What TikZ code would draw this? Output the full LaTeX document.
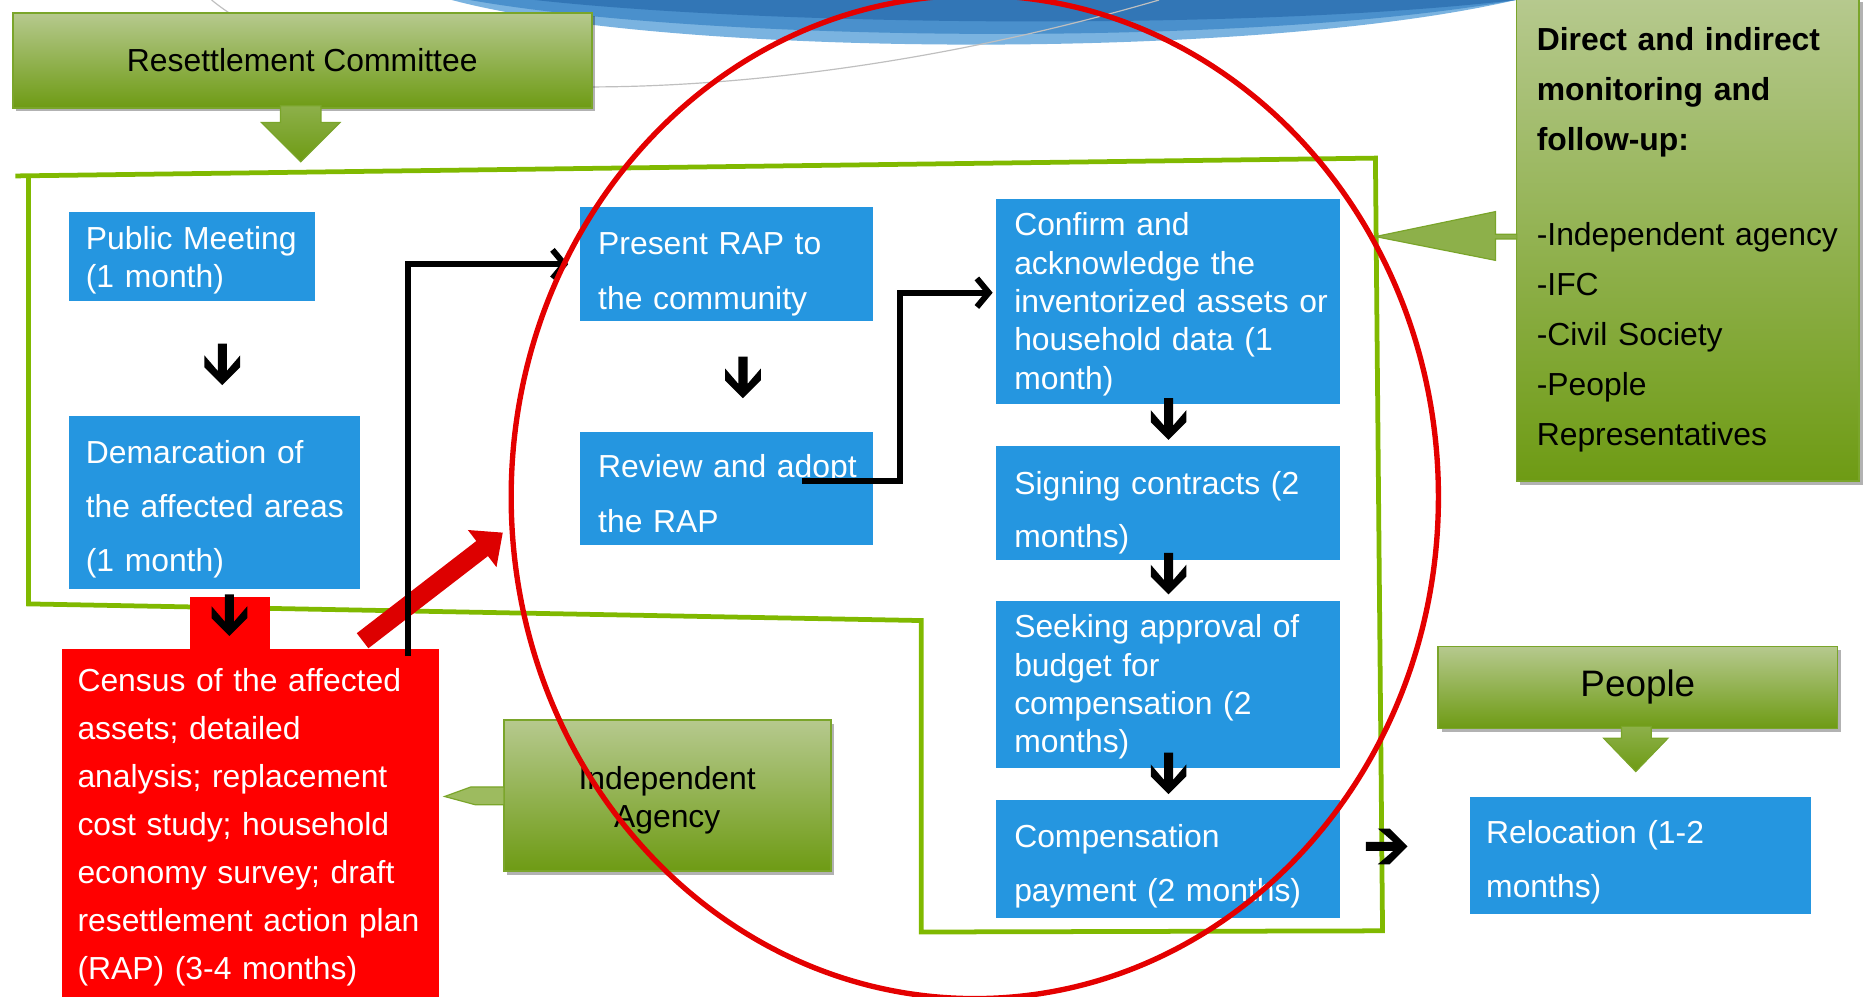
\documentclass[tikz,border=0pt]{standalone}
\usepackage{fontspec}
\setmainfont{Liberation Sans}
\usetikzlibrary{arrows.meta,shadows,calc}

\definecolor{boxblue}{RGB}{37,150,224}
\definecolor{flowgreen}{RGB}{128,185,0}
\definecolor{gtop}{RGB}{182,201,142}
\definecolor{gbot}{RGB}{110,155,20}
\definecolor{gedge}{RGB}{122,165,42}
\definecolor{gmid}{RGB}{141,176,74}
\definecolor{glight}{RGB}{157,187,95}
\definecolor{rbox}{RGB}{255,0,0}
\definecolor{rarrow}{RGB}{221,0,0}
\definecolor{rring}{RGB}{228,0,0}
\definecolor{bandA}{RGB}{122,179,224}
\definecolor{bandB}{RGB}{74,144,204}
\definecolor{bandC}{RGB}{50,118,182}

\newcommand\fsz[2]{\fontsize{#1}{#2}\selectfont}
\newcommand\lift[1]{\rule{0pt}{#1pt}}

\begin{document}
\begin{tikzpicture}[x=1pt,y=-1pt,
  bbox/.style={fill=boxblue, text=white, anchor=north west, align=left, inner xsep=14pt, inner ysep=0pt},
  rbx/.style={fill=rbox, text=white, anchor=north west, align=left, inner xsep=13pt, inner ysep=0pt},
  gbox/.style={anchor=north west, top color=gtop, bottom color=gbot, draw=gedge, line width=1.5pt, inner sep=0pt,
     drop shadow={shadow xshift=3pt, shadow yshift=-3pt, opacity=0.3, fill=black}},
  garrow/.style={top color=gmid, bottom color=gbot, draw=gedge, line width=1pt},
  conn/.style={draw=black, line width=5pt, -{Straight Barb[length=10pt,width=24pt]}},
  redarr/.style={draw=rarrow, line width=16pt, -{Triangle[length=22pt,width=38pt]}},
  dnarrow/.pic={\fill[black] (-3.8,0) -- (3.8,0) -- (3.8,23) -- (15,10) -- (15,20) -- (0,35) -- (-15,20) -- (-15,10) -- (-3.8,23) -- cycle;}
]
\useasboundingbox (0,0) rectangle (1568,838);

% decorative background band and grey arc
\fill[bandA] (380,-2) -- (380,0) .. controls (560,48) and (1050,52) .. (1275,0) -- (1275,-2) -- cycle;
\fill[bandB] (395,-2) -- (395,0) .. controls (600,36) and (1050,40) .. (1275,0) -- (1275,-2) -- cycle;
\fill[bandC] (450,-2) -- (450,0) .. controls (650,22) and (1050,26) .. (1275,0) -- (1275,-2) -- cycle;
\draw[black!25, line width=1pt] (178,0) .. controls (300,100) and (650,95) .. (975,0);

% green frame
\draw[flowgreen, line width=4pt, line join=miter] (13,148) -- (1157,133) -- (1163,783) -- (775,784) -- (775,522) -- (24,508) -- (24,149);

% blue steps
\node[bbox, minimum width=207pt, minimum height=75pt, text width=179pt, font=\fsz{26.8}{32.3}] (pm) at (58,178) {\lift{26}Public Meeting\\(1 month)};
\node[bbox, minimum width=245pt, minimum height=145pt, text width=217pt, font=\fsz{26.8}{45.5}] (dm) at (58,350) {\lift{31}Demarcation of\\\mbox{the affected areas}\\(1 month)};
\node[bbox, inner xsep=15pt, minimum width=246pt, minimum height=96pt, text width=216pt, font=\fsz{26.8}{46}] (pr) at (488,174) {\lift{36}Present RAP to\\the community};
\node[bbox, inner xsep=15pt, minimum width=246pt, minimum height=95pt, text width=216pt, font=\fsz{26.8}{46}] (rv) at (488,363) {\lift{28}\mbox{Review and adopt}\\the RAP};
\node[bbox, inner xsep=15pt, minimum width=289pt, minimum height=173pt, text width=259pt, font=\fsz{26.8}{32.3}] (cf) at (838,167) {\lift{24}Confirm and\\acknowledge the\\\mbox{inventorized assets or}\\household data (1\\month)};
\node[bbox, inner xsep=15pt, minimum width=289pt, minimum height=96pt, text width=259pt, font=\fsz{26.8}{45}] (sg) at (838,375) {\lift{36}Signing contracts (2\\months)};
\node[bbox, inner xsep=15pt, minimum width=289pt, minimum height=141pt, text width=259pt, font=\fsz{26.8}{32.3}] (sk) at (838,505) {\lift{24}Seeking approval of\\budget for\\compensation (2\\months)};
\node[bbox, inner xsep=15pt, minimum width=289pt, minimum height=99pt, text width=259pt, font=\fsz{26.8}{45}] (cp) at (838,673) {\lift{31}Compensation\\payment (2 months)};
\node[bbox, minimum width=287pt, minimum height=99pt, text width=259pt, font=\fsz{26.8}{45}] (rl) at (1236,670) {\lift{31}Relocation (1-2\\months)};

% red census box with tab
\node[rbx, minimum width=317pt, minimum height=296pt, text width=291pt, font=\fsz{26.8}{40.3}] (cen) at (52,546) {\lift{23}Census of the affected\\assets; detailed\\analysis; replacement\\cost study; household\\economy survey; draft\\\mbox{resettlement action plan}\\(RAP) (3-4 months)};
\node[fill=rbox, anchor=north west, inner sep=0pt, minimum width=67pt, minimum height=46pt] (tab) at (160,502) {};

% green actors
\node[gbox, minimum width=487pt, minimum height=80pt, font=\fsz{26.8}{32}] (rc) at (10,10) {Resettlement Committee};
\fill[garrow] (236,89) -- (270,89) -- (270,103) -- (286,103) -- (253,136) -- (220,103) -- (236,103) -- cycle;

\node[gbox, minimum width=275pt, minimum height=127pt, align=center, font=\fsz{26.8}{32}] (ia) at (423,605) {\lift{28}Independent\\Agency};
\fill[glight, draw=gedge, line width=1pt] (424,662) -- (396,662) -- (374,670) -- (400,677) -- (424,677) -- cycle;

\node[gbox, minimum width=336pt, minimum height=69pt, font=\fsz{31}{37}] (pp) at (1209,543) {People};
\fill[garrow] (1364,611) -- (1389,611) -- (1389,621) -- (1403,621) -- (1376,649) -- (1349,621) -- (1364,621) -- cycle;

\node[gbox, minimum width=288pt, minimum height=406pt, align=left, inner xsep=17pt, text width=254pt, font=\fsz{26.8}{42}] (mon) at (1275,-2)
  {\bfseries \mbox{Direct and indirect}\\monitoring and\\follow-up:\\[38pt]\mdseries \mbox{-Independent agency}\\-IFC\\-Civil Society\\-People\\Representatives};
\fill[gmid, draw=gedge, line width=1pt] (1276,197) -- (1258,197) -- (1258,178) -- (1157,199) -- (1258,219) -- (1258,201) -- (1276,201) -- cycle;

% red block arrow
\coordinate (ra1) at (305,539);
\coordinate (ra2) at (423,448);
\draw[redarr] (ra1) -- (ra2);

% black connectors
\coordinate (k1) at (343,552);
\draw[conn, shorten >=10pt] (k1) |- (pr.west);
\coordinate (k2) at (675,405);
\coordinate (k3) at (757,405);
\draw[conn, shorten >=3pt] (k2) -- (k3) |- ([yshift=7.5pt]cf.west);

% step arrows
\coordinate (a1) at (187,289);
\coordinate (a2) at (193,500);
\coordinate (a3) at (625,300);
\coordinate (a4) at (983,335);
\coordinate (a5) at (983,465);
\coordinate (a6) at (983,633);
\coordinate (a7) at (1149,712);
\pic at (a1) {dnarrow};
\pic at (a2) {dnarrow};
\pic at (a3) {dnarrow};
\pic at (a4) {dnarrow};
\pic at (a5) {dnarrow};
\pic at (a6) {dnarrow};
\pic[rotate=90] at (a7) {dnarrow};

% red ring
\draw[rring, line width=4.5pt] (820,418) ellipse [x radius=390, y radius=422];
\end{tikzpicture}
\end{document}
